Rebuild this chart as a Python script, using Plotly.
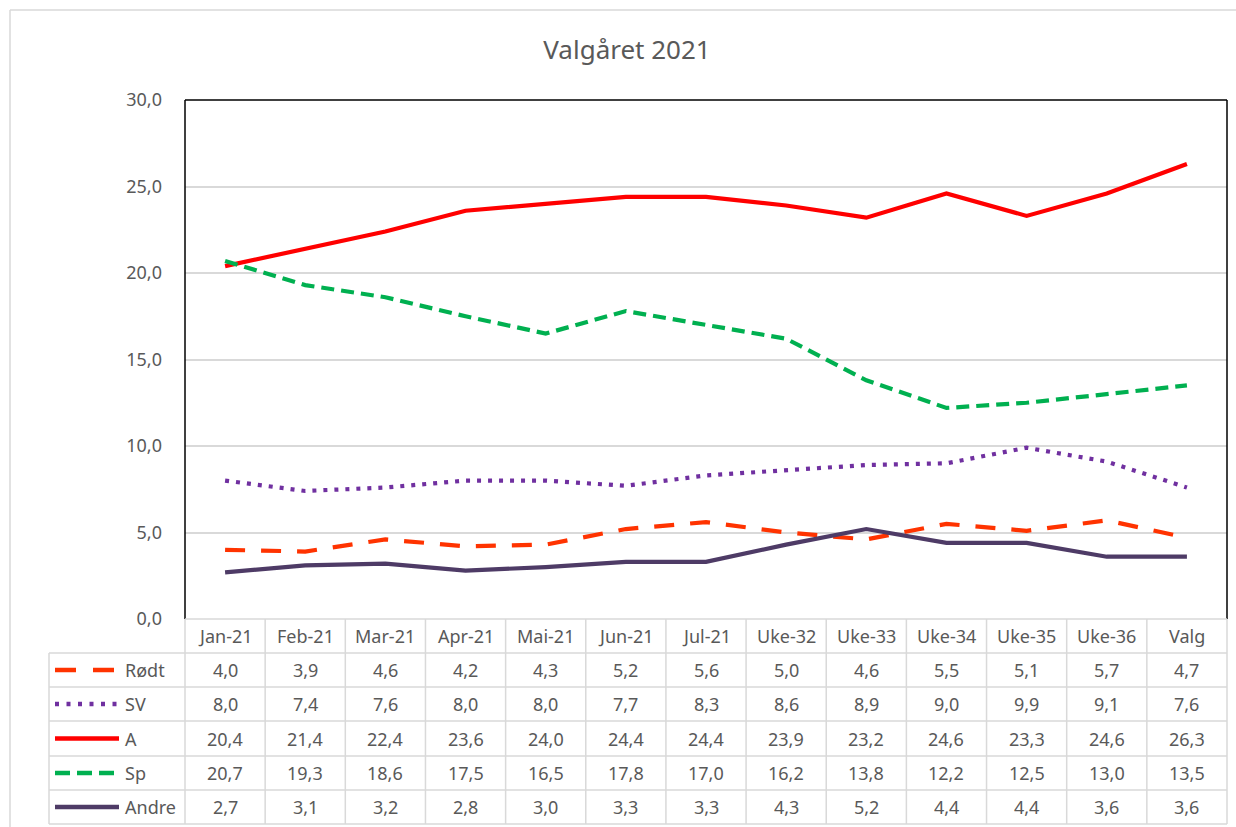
import plotly.graph_objects as go

categories = ["Jan-21", "Feb-21", "Mar-21", "Apr-21", "Mai-21", "Jun-21", "Jul-21",
              "Uke-32", "Uke-33", "Uke-34", "Uke-35", "Uke-36", "Valg"]
rodt = [4.0, 3.9, 4.6, 4.2, 4.3, 5.2, 5.6, 5.0, 4.6, 5.5, 5.1, 5.7, 4.7]
sv = [8.0, 7.4, 7.6, 8.0, 8.0, 7.7, 8.3, 8.6, 8.9, 9.0, 9.9, 9.1, 7.6]
a = [20.4, 21.4, 22.4, 23.6, 24.0, 24.4, 24.4, 23.9, 23.2, 24.6, 23.3, 24.6, 26.3]
sp = [20.7, 19.3, 18.6, 17.5, 16.5, 17.8, 17.0, 16.2, 13.8, 12.2, 12.5, 13.0, 13.5]
andre = [2.7, 3.1, 3.2, 2.8, 3.0, 3.3, 3.3, 4.3, 5.2, 4.4, 4.4, 3.6, 3.6]
y_ticks = [0, 5, 10, 15, 20, 25, 30]

W, H = 1236, 827
PX0, PX1 = 185, 1227   # plot area left/right (px)
PY0, PY1 = 100, 619    # plot area top/bottom (px)

series = [
    ("Rødt", rodt, "#FF3300", "20px,16px"),
    ("SV", sv, "#7030A0", "4px,7px"),
    ("A", a, "#FF0000", "solid"),
    ("Sp", sp, "#00B050", "13px,7px"),
    ("Andre", andre, "#4E3B66", "solid"),
]

def px(x):
    return x / W

def py(y):
    return 1 - y / H

fig = go.Figure()
xs = list(range(len(categories)))
for name, vals, color, dash in series:
    fig.add_trace(go.Scatter(x=xs, y=vals, mode="lines", name=name,
                             line=dict(color=color, width=4.2, dash=dash),
                             showlegend=False, hoverinfo="y"))

shapes = []
grid = "#D9D9D9"
# outer chart border
shapes.append(dict(type="line", xref="paper", yref="paper", x0=px(10), x1=px(W + 5),
                   y0=py(10), y1=py(10), line=dict(color=grid, width=1.5)))
shapes.append(dict(type="line", xref="paper", yref="paper", x0=px(10), x1=px(10),
                   y0=py(10), y1=py(H + 5), line=dict(color=grid, width=1.5)))
# plot area border (left, top, right)
for (x0, y0, x1, y1) in [(PX0, PY0, PX0, PY1), (PX0, PY0, PX1, PY0), (PX1, PY0, PX1, PY1)]:
    shapes.append(dict(type="line", xref="paper", yref="paper", x0=px(x0), x1=px(x1),
                       y0=py(y0), y1=py(y1), line=dict(color="black", width=1.5)))

# data table grid
row_edges = [619, 653, 687, 721, 756, 790, 824]
LX = 49
n = len(categories)
colw = (PX1 - PX0) / n
for i, ye in enumerate(row_edges):
    x_start = PX0 if i == 0 else LX
    shapes.append(dict(type="line", xref="paper", yref="paper", x0=px(x_start), x1=px(PX1),
                       y0=py(ye), y1=py(ye), line=dict(color=grid, width=1.5)))
for j in range(n + 1):
    xe = PX0 + j * colw
    shapes.append(dict(type="line", xref="paper", yref="paper", x0=px(xe), x1=px(xe),
                       y0=py(row_edges[0]), y1=py(row_edges[-1]), line=dict(color=grid, width=1.5)))
shapes.append(dict(type="line", xref="paper", yref="paper", x0=px(LX), x1=px(LX),
                   y0=py(row_edges[1]), y1=py(row_edges[-1]), line=dict(color=grid, width=1.5)))

annotations = []
txt_color = "#595959"
fnt = "Noto Sans"
FS = 18
hc = (row_edges[0] + row_edges[1]) / 2
for i, c in enumerate(categories):
    annotations.append(dict(x=i, y=py(hc), xref="x", yref="paper", text=c, showarrow=False,
                            font=dict(family=fnt, size=FS, color=txt_color),
                            xanchor="center", yanchor="middle"))
key_dashes = ["21px,17px", "4px,7.5px", "solid", "15px,7px", "solid"]
for r, (name, vals, color, dash) in enumerate(series):
    yc = (row_edges[r + 1] + row_edges[r + 2]) / 2
    shapes.append(dict(type="line", xref="paper", yref="paper", x0=px(55), x1=px(119),
                       y0=py(yc), y1=py(yc), line=dict(color=color, width=4.5, dash=key_dashes[r])))
    annotations.append(dict(x=px(123), y=py(yc), xref="paper", yref="paper", text=name,
                            showarrow=False, font=dict(family=fnt, size=FS, color=txt_color),
                            xanchor="left", yanchor="middle"))
    for i, v in enumerate(vals):
        annotations.append(dict(x=i, y=py(yc), xref="x", yref="paper",
                                text=f"{v:.1f}".replace(".", ","), showarrow=False,
                                font=dict(family=fnt, size=FS, color=txt_color),
                                xanchor="center", yanchor="middle"))

fig.update_layout(
    width=W, height=H,
    margin=dict(l=0, r=0, t=0, b=0, autoexpand=False),
    paper_bgcolor="white", plot_bgcolor="white",
    separators=", ",
    title=dict(text="Valgåret 2021", x=627 / W, xanchor="center", y=py(50), yanchor="middle",
               font=dict(family=fnt, size=26, color="#595959")),
    xaxis=dict(domain=[px(PX0), px(PX1)], range=[-0.5, n - 0.5], showgrid=False,
               showticklabels=False, zeroline=False, showline=False, fixedrange=True,
               automargin=False),
    yaxis=dict(domain=[py(PY1), py(PY0)], range=[0, 30], tickvals=y_ticks, tickformat=".1f",
               showgrid=True, gridcolor=grid, gridwidth=1.5, zeroline=False, showline=False,
               ticks="", ticklabelstandoff=22, automargin=False,
               tickfont=dict(family=fnt, size=FS, color="#595959")),
    shapes=shapes,
    annotations=annotations,
)

fig.write_html("out.html", config={"displayModeBar": False},
               post_script="document.body.style.margin='0px';document.body.style.overflow='hidden';")
